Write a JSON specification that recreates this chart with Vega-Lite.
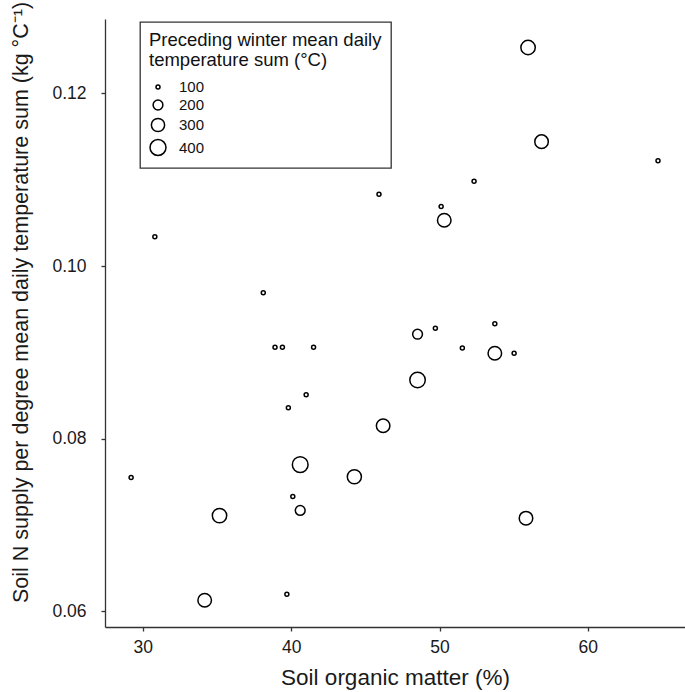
{
  "$schema": "https://vega.github.io/schema/vega-lite/v6.json",
  "width": 580,
  "height": 608,
  "autosize": {"type": "none"},
  "padding": {"left": 105, "top": 19, "right": 0, "bottom": 65},
  "background": "white",
  "config": {
    "view": {"stroke": null},
    "font": "Liberation Sans",
    "axis": {
      "domainColor": "#333333",
      "domainWidth": 1.3,
      "tickColor": "#333333",
      "tickWidth": 1.3,
      "tickSize": 4,
      "labelFontSize": 17.5,
      "labelColor": "#1a1a1a",
      "titleFontWeight": "normal",
      "titleColor": "#1a1a1a",
      "grid": false
    },
    "legend": {"strokeWidth": 1.3}
  },
  "data": {
    "values": [
      {"som": 55.97, "nsupply": 0.1253, "temp": 340},
      {"som": 56.88, "nsupply": 0.1144, "temp": 310},
      {"som": 64.73, "nsupply": 0.1122, "temp": 100},
      {"som": 52.33, "nsupply": 0.1098, "temp": 100},
      {"som": 45.92, "nsupply": 0.1083, "temp": 100},
      {"som": 50.11, "nsupply": 0.1069, "temp": 100},
      {"som": 50.32, "nsupply": 0.1053, "temp": 310},
      {"som": 30.81, "nsupply": 0.1034, "temp": 100},
      {"som": 38.12, "nsupply": 0.0969, "temp": 100},
      {"som": 29.21, "nsupply": 0.0755, "temp": 100},
      {"som": 38.91, "nsupply": 0.0906, "temp": 100},
      {"som": 39.41, "nsupply": 0.0906, "temp": 100},
      {"som": 41.51, "nsupply": 0.0906, "temp": 100},
      {"som": 48.52, "nsupply": 0.0921, "temp": 200},
      {"som": 49.72, "nsupply": 0.0928, "temp": 100},
      {"som": 53.73, "nsupply": 0.0933, "temp": 100},
      {"som": 51.54, "nsupply": 0.0905, "temp": 100},
      {"som": 53.73, "nsupply": 0.0899, "temp": 310},
      {"som": 55.03, "nsupply": 0.0899, "temp": 100},
      {"som": 48.52, "nsupply": 0.0868, "temp": 380},
      {"som": 41.01, "nsupply": 0.0851, "temp": 100},
      {"som": 39.81, "nsupply": 0.0836, "temp": 100},
      {"som": 46.20, "nsupply": 0.0815, "temp": 310},
      {"som": 40.61, "nsupply": 0.0770, "temp": 390},
      {"som": 44.26, "nsupply": 0.0756, "temp": 330},
      {"som": 40.11, "nsupply": 0.0733, "temp": 100},
      {"som": 40.61, "nsupply": 0.0717, "temp": 200},
      {"som": 35.17, "nsupply": 0.0711, "temp": 340},
      {"som": 55.83, "nsupply": 0.0708, "temp": 310},
      {"som": 39.71, "nsupply": 0.0620, "temp": 100},
      {"som": 34.17, "nsupply": 0.0613, "temp": 310}
    ]
  },
  "mark": {"type": "point", "filled": false, "color": "black", "strokeWidth": 1.5, "opacity": 1},
  "encoding": {
    "x": {
      "field": "som",
      "type": "quantitative",
      "scale": {"domain": [27.45, 66.55], "nice": false, "zero": false},
      "axis": {
        "title": "Soil organic matter (%)",
        "titleFontSize": 22.5,
        "values": [30, 40, 50, 60],
        "labelPadding": 7,
        "titleY": 57,
        "titleBaseline": "alphabetic"
      }
    },
    "y": {
      "field": "nsupply",
      "type": "quantitative",
      "scale": {"domain": [0.0582, 0.1286], "nice": false, "zero": false},
      "axis": {
        "title": "Soil N supply per degree mean daily temperature sum  (kg °C⁻¹)",
        "titleFontSize": 21.5,
        "values": [0.06, 0.08, 0.10, 0.12],
        "format": ".2f",
        "labelPadding": 15,
        "titleX": -78,
        "titleY": 283,
        "titleBaseline": "alphabetic"
      }
    },
    "size": {
      "field": "temp",
      "type": "quantitative",
      "scale": {"type": "linear", "domain": [100, 400], "range": [16, 255], "zero": false},
      "legend": {
        "title": ["Preceding winter mean daily", "temperature sum (°C)"],
        "orient": "none",
        "legendX": 35,
        "legendY": 3,
        "values": [100, 200, 300, 400],
        "strokeColor": "#333333",
        "fillColor": "white",
        "padding": 9,
        "titleFontSize": 18.5,
        "titleFontWeight": "normal",
        "titleLineHeight": 20,
        "titleLimit": 500,
        "titleColor": "#111111",
        "titlePadding": 10,
        "labelFontSize": 15,
        "labelColor": "#111111",
        "labelOffset": 12,
        "rowPadding": 1,
        "symbolStrokeWidth": 1.5,
        "symbolStrokeColor": "black"
      }
    }
  }
}
